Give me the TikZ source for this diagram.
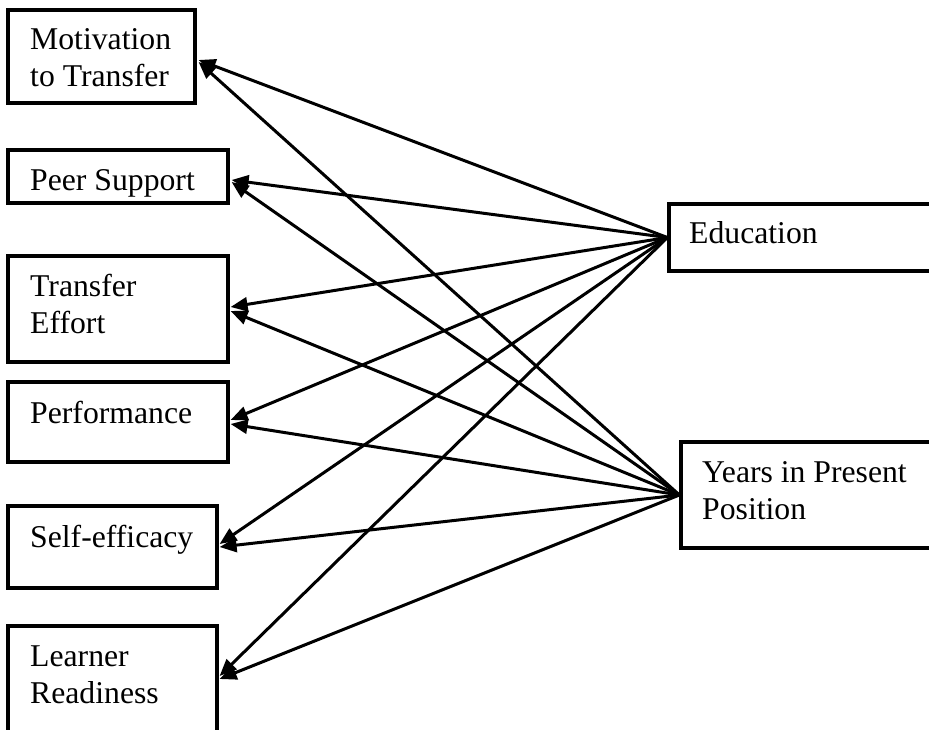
\documentclass[tikz,border=0pt]{standalone}
\usepackage{fontspec}
\setmainfont{Liberation Serif}
\usetikzlibrary{arrows.meta}
\begin{document}
\begin{tikzpicture}[x=1pt,y=-1pt,
  box/.style={draw, line width=3.2pt, rectangle, inner sep=0pt},
  lbl/.style={anchor=base west, inner sep=0pt, align=left,
    font=\fontsize{31.7}{36.5}\selectfont},
  link/.style={line width=3pt, -{Triangle[length=17pt,width=14pt]}}]
\clip (0,0) rectangle (929,729);

% outcome boxes (left column)
\node[box, minimum width=187pt, minimum height=93pt]  (mot)  at (101.5,56.5) {};
\node[box, minimum width=220pt, minimum height=53pt]  (peer) at (118,176.5)  {};
\node[box, minimum width=220pt, minimum height=106pt] (te)   at (118,309)    {};
\node[box, minimum width=220pt, minimum height=80pt]  (perf) at (118,422)    {};
\node[box, minimum width=209pt, minimum height=82pt]  (self) at (112.5,547)  {};
\node[box, minimum width=209pt, minimum height=134pt] (lr)   at (112.5,693)  {};

% predictor boxes (right column)
\node[box, minimum width=291pt, minimum height=67pt]  (edu)  at (814.5,237.5) {};
\node[box, minimum width=279pt, minimum height=106pt] (yrs)  at (820.5,495)   {};

% labels (multi-line labels are placed by the baseline of their last line)
\node[lbl] (motT)  at (30,86)  {Motivation\\to Transfer};
\node[lbl] (peerT) at (30,190) {Peer Support};
\node[lbl] (teT)   at (30,333) {Transfer\\Effort};
\node[lbl] (perfT) at (30,423) {Performance};
\node[lbl] (selfT) at (30,547) {Self-efficacy};
\node[lbl] (lrT)   at (30,703) {Learner\\Readiness};
\node[lbl] (eduT)  at (689,243) {Education};
\node[lbl] (yrsT)  at (702,519) {Years in Present\\Position};

% paths from Education
\draw[link] (edu.west) -- ([xshift=2pt,yshift=-3.5pt]mot.east);
\draw[link] (edu.west) -- ([xshift=2pt,yshift=-3.5pt]peer.east);
\draw[link] (edu.west) -- ([xshift=1pt,yshift=2pt]te.east);
\draw[link] (edu.west) -- ([xshift=1pt,yshift=2pt]perf.east);
\draw[link] (edu.west) -- ([xshift=1pt,yshift=3pt]self.east);
\draw[link] (edu.west) -- ([xshift=1pt,yshift=17pt]lr.east);

% paths from Years in Present Position
\draw[link] (yrs.west) -- ([xshift=2pt,yshift=-5.5pt]mot.east);
\draw[link] (yrs.west) -- ([xshift=2pt,yshift=-5.5pt]peer.east);
\draw[link] (yrs.west) -- ([xshift=1pt,yshift=-2pt]te.east);
\draw[link] (yrs.west) -- ([xshift=1pt,yshift=-2pt]perf.east);
\draw[link] (yrs.west) -- ([xshift=1pt,yshift=0pt]self.east);
\draw[link] (yrs.west) -- ([xshift=1pt,yshift=14pt]lr.east);
\end{tikzpicture}
\end{document}
